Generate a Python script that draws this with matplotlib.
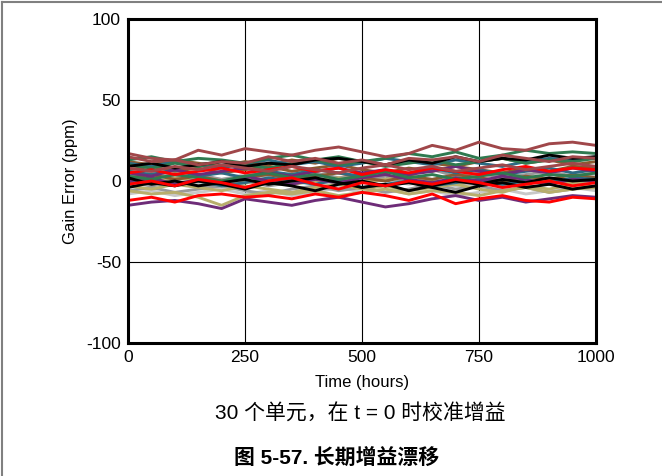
import numpy as np
import matplotlib
matplotlib.use("Agg")
import matplotlib.pyplot as plt
from matplotlib.lines import Line2D

# === DATA (ppm, every 50 h) ===
hours = list(range(0, 1001, 50))

dred1 = [17, 14, 13, 19, 16, 20, 18, 16, 19, 21, 18, 15, 17, 22, 19, 24, 20, 19, 23, 24, 22]
dred2 = [15, 12, 13, 10, 12, 11, 15, 12, 14, 11, 13, 10, 14, 13, 15, 12, 16, 14, 12, 15, 14]
dred3 = [8, 6, 9, 7, 10, 8, 6, 9, 7, 5, 8, 10, 7, 9, 6, 8, 10, 7, 9, 11, 9]
green1 = [13, 15, 12, 14, 13, 11, 14, 16, 13, 15, 12, 14, 17, 15, 18, 14, 16, 19, 17, 18, 17]
green2 = [10, 8, 11, 9, 12, 10, 8, 11, 13, 10, 12, 9, 11, 13, 10, 12, 14, 11, 13, 12, 14]
green3 = [3, 1, 4, 2, 0, 3, 5, 2, 4, 1, 3, 6, 2, 4, 1, 3, 5, 2, 4, 3, 5]
black1 = [9, 11, 8, 10, 12, 9, 11, 10, 13, 14, 12, 10, 13, 11, 15, 12, 14, 13, 16, 14, 15]
black2 = [2, -2, 0, -3, -1, 1, -2, 0, 2, -1, -4, -2, -6, -3, 0, -2, 1, -1, 2, 0, 1]
black3 = [-4, -1, -3, 0, -2, -5, -1, -3, -6, -2, 0, -3, -1, -4, -7, -3, -1, -4, -2, -5, -3]
red1 = [5, 7, 4, 6, 8, 5, 7, 9, 6, 8, 4, 7, 5, 8, 6, 4, 7, 9, 6, 8, 7]
red2 = [-2, 0, -3, 1, -1, -4, 0, 2, -2, -5, -1, -3, 0, -2, 1, -1, -4, -2, 0, -3, -1]
red3 = [-12, -10, -13, -9, -8, -10, -9, -11, -8, -10, -7, -9, -12, -8, -14, -11, -9, -12, -13, -10, -11]
purple1 = [5, 3, 7, 4, 6, 8, 5, 3, 6, 8, 5, 7, 4, 6, 9, 6, 4, 7, 5, 8, 6]
purple2 = [0, 2, -2, 1, -1, 3, 0, -2, 1, -1, 2, 4, 1, -1, 2, 0, 3, 1, -2, 1, 0]
purple3 = [-15, -13, -12, -14, -17, -11, -13, -15, -12, -10, -13, -16, -14, -11, -9, -12, -10, -13, -11, -9, -10]
olive1 = [-6, -8, -7, -10, -15, -9, -7, -8, -6, -9, -7, -5, -8, -6, -7, -9, -6, -4, -7, -5, -4]
olive2 = [1, -1, 2, 0, -3, -1, 1, -2, 0, 2, -1, 1, 3, 0, -2, 1, -1, 2, 0, -1, 1]
olive3 = [-3, -5, -2, -4, -6, -3, -5, -7, -4, -2, -5, -3, -6, -4, -2, -5, -7, -3, -5, -2, -4]
gray1 = [0, -3, -1, -4, -2, 0, -3, -1, 2, -2, 0, 3, -1, 1, -2, 0, -3, -1, 1, -2, 0]
gray2 = [3, 5, 2, 4, 1, 3, 6, 3, 5, 2, 4, 1, 5, 7, 3, 5, 2, 4, 6, 3, 5]
gray3 = [-6, -4, -7, -5, -3, -6, -8, -5, -3, -6, -4, -7, -5, -2, -5, -3, -6, -4, -7, -5, -3]
teal1 = [11, 9, 12, 10, 8, 11, 13, 10, 12, 9, 11, 14, 12, 10, 13, 11, 9, 12, 14, 13, 15]
teal2 = [6, 4, 7, 3, 5, 2, 6, 4, 7, 5, 3, 6, 4, 8, 5, 7, 4, 6, 8, 5, 7]
teal3 = [-1, 1, -2, 0, -3, -1, 2, 0, -2, 1, -4, -2, 0, -3, -1, 1, -2, 0, -1, 2, 1]
brown1 = [12, 10, 13, 11, 9, 12, 10, 13, 11, 14, 12, 10, 13, 11, 9, 12, 14, 11, 13, 10, 12]
brown2 = [7, 9, 6, 8, 5, 7, 9, 6, 8, 10, 7, 5, 8, 6, 9, 7, 5, 8, 6, 9, 8]
brown3 = [2, 4, 1, 3, 0, 2, 4, 1, 3, 5, 2, 0, 3, 1, 4, 2, 0, 3, 1, 4, 2]
lgray1 = [-1, -3, 0, -2, -4, -1, 1, -2, 0, -3, -1, 1, -2, 0, -3, -1, 2, -1, 0, -2, -1]
lgray2 = [4, 2, 5, 3, 1, 4, 2, 5, 3, 1, 4, 6, 3, 1, 4, 2, 5, 3, 1, 4, 3]
lgray3 = [-8, -6, -9, -7, -5, -8, -6, -9, -7, -4, -7, -5, -8, -6, -9, -7, -5, -8, -6, -4, -6]

series = [
    (lgray1, "#C8C8C8"), (lgray2, "#C8C8C8"), (lgray3, "#C8C8C8"),
    (gray1, "#9A9A9A"), (gray2, "#9A9A9A"), (gray3, "#9A9A9A"),
    (olive1, "#B8AE6C"), (olive2, "#B8AE6C"), (olive3, "#B8AE6C"),
    (brown1, "#8A5A30"), (brown2, "#8A5A30"), (brown3, "#8A5A30"),
    (teal1, "#2C6B84"), (teal2, "#2C6B84"), (teal3, "#2C6B84"),
    (purple1, "#6E2C78"), (purple2, "#6E2C78"), (purple3, "#6E2C78"),
    (green1, "#2F7A50"), (green2, "#2F7A50"), (green3, "#2F7A50"),
    (black1, "#000000"), (black2, "#000000"), (black3, "#000000"),
    (red1, "#FF0000"), (red2, "#FF0000"), (red3, "#FF0000"),
    (dred1, "#A0474A"), (dred2, "#A0474A"), (dred3, "#A0474A"),
]

plt.rcParams["font.family"] = ["Liberation Sans", "Noto Sans CJK SC"]
plt.rcParams["axes.unicode_minus"] = False

fig = plt.figure(figsize=(6.62, 4.76), dpi=100)
ax = fig.add_axes([0.1934, 0.2794, 0.7069, 0.6806])

for vals, col in series:
    ax.plot(hours, vals, color=col, lw=2.1, solid_joinstyle="round")

ax.set_xlim(0, 1000)
ax.set_ylim(-100, 100)
ax.set_xticks([0, 250, 500, 750, 1000])
ax.set_yticks([-100, -50, 0, 50, 100])
ax.grid(True, color="black", lw=0.8)
ax.set_axisbelow(True)
for s in ax.spines.values():
    s.set_linewidth(2.2)
ax.tick_params(length=0, labelsize=12.5, pad=5)
ax.set_xlabel("Time (hours)", fontsize=12, labelpad=7)
ax.set_ylabel("Gain Error (ppm)", fontsize=12, labelpad=6)

fig.text(0.545, 0.131, "30 个单元，在 t = 0 时校准增益", ha="center", va="center", fontsize=15)
fig.text(0.508, 0.038, "图 5-57. 长期增益漂移", ha="center", va="center", fontsize=15,
         fontweight="bold")

# page frame lines
fig.add_artist(Line2D([0.003, 1.0], [0.996, 0.996], color="#808080", lw=1.5,
                      transform=fig.transFigure))
fig.add_artist(Line2D([0.003, 0.003], [0.0, 0.996], color="#808080", lw=1.5,
                      transform=fig.transFigure))

fig.savefig("out.png", dpi=100)
